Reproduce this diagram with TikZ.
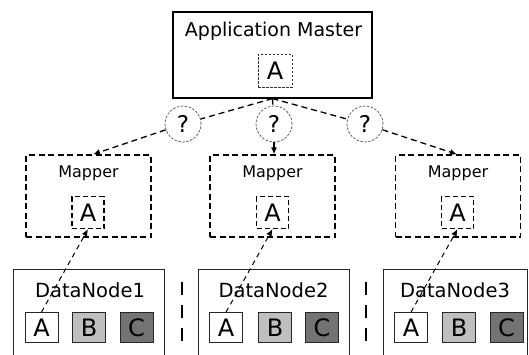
\documentclass[tikz,border=0pt]{standalone}
\usepackage{fontspec}
\setmainfont{DejaVu Sans}
\usetikzlibrary{arrows.meta}

\tikzset{
  box/.style={draw, line width=1.2pt, inner sep=0pt},
  lbl/.style={inner sep=0pt, font=\fontsize{16}{18}\selectfont},
  dnlbl/.style={inner sep=0pt, font=\fontsize{19.5}{21}\selectfont},
  letter/.style={inner sep=0pt, minimum width=33pt, minimum height=30pt,
                 font=\fontsize{24}{26}\selectfont},
  mapbox/.style={draw, line width=1.3pt, dash pattern=on 6pt off 3.5pt,
                 minimum width=125pt, minimum height=82pt},
  maplet/.style={letter, draw, line width=1.3pt, dash pattern=on 5pt off 3pt,
                 minimum width=32pt, minimum height=32pt},
  aminner/.style={letter, draw, line width=0.7pt, draw=black!80,
                  dash pattern=on 2.5pt off 1.5pt,
                  minimum width=34pt, minimum height=33pt},
  query/.style={circle, draw=black!70, line width=0.7pt,
                dash pattern=on 2.5pt off 1.5pt, fill=white,
                minimum size=36pt, inner sep=0pt,
                font=\fontsize{23}{25}\selectfont},
  dnbox/.style={draw=black!85, line width=0.8pt, minimum width=151pt,
                minimum height=110pt, anchor=north},
  blk/.style={letter, draw=black!85, line width=0.8pt},
  flow/.style={line width=1.3pt, dash pattern=on 6pt off 4pt},
  tip/.style={-{Latex[length=7pt,width=6pt]}},
  read/.style={line width=1pt, dash pattern=on 5pt off 4pt, tip},
  sep/.style={line width=1.5pt, dash pattern=on 13pt off 10pt}
}

\begin{document}
\begin{tikzpicture}[x=1pt, y=-1pt]
\clip (0,0) rectangle (529,354);
\fill[white] (0,0) rectangle (529,354);

% application master
\node[box, minimum width=199pt, minimum height=86pt] (am) at (272.5,55) {};
\node[lbl, font=\fontsize{19}{21}\selectfont] (amt) at (273.5,31) {Application Master};
\node[aminner] (amA) at (275,70.5) {A};

% mappers
\node[mapbox] (m1) at (88.5,196) {};
\node[mapbox] (m2) at (272.5,196) {};
\node[mapbox] (m3) at (458,196) {};
\node[lbl] (m1t) at (88.5,173) {Mapper};
\node[lbl] (m2t) at (272.5,173) {Mapper};
\node[lbl] (m3t) at (458,173) {Mapper};
\node[maplet] (mA1) at (88,212.5) {A};
\node[maplet] (mA2) at (272.5,212.5) {A};
\node[maplet] (mA3) at (457.5,212.5) {A};

% data nodes (open at the bottom edge)
\node[dnbox] (d1) at (88.5,269) {};
\node[dnbox] (d2) at (273.5,269) {};
\node[dnbox, minimum width=144pt] (d3) at (455,269) {};
\node[dnlbl] (d1t) at (90,290) {DataNode1};
\node[dnlbl] (d2t) at (273.5,290) {DataNode2};
\node[dnlbl] (d3t) at (455,290) {DataNode3};

\node[blk] (a1) at (41.5,327.5) {A};
\node[blk, fill=black!25] (b1) at (89,327.5) {B};
\node[blk, fill=black!55] (c1) at (136.5,327.5) {C};
\node[blk] (a2) at (226,327.5) {A};
\node[blk, fill=black!25] (b2) at (275,327.5) {B};
\node[blk, fill=black!55] (c2) at (322,327.5) {C};
\node[blk] (a3) at (411,327.5) {A};
\node[blk, fill=black!25] (b3) at (459,327.5) {B};
\node[blk, fill=black!55] (c3) at (506.5,327.5) {C};

% separators between data nodes
\coordinate (s1a) at (182,282);
\coordinate (s1b) at (182,342);
\coordinate (s2a) at (366,282);
\coordinate (s2b) at (366,342);
\draw[sep] (s1a) -- (s1b);
\draw[sep] (s2a) -- (s2b);

% scheduling decisions
\node[query] (q1) at (183,124) {?};
\node[query] (q2) at (274,124) {?};
\node[query] (q3) at (365,124) {?};

\draw[flow] (am.south) -- (q1);
\draw[flow] (am.south) -- (q2);
\draw[flow] (am.south) -- (q3);
\draw[flow, tip] (q1) -- ([xshift=4.5pt]m1.north);
\draw[flow, tip] (q2) -- (m2.north -| q2);
\draw[flow, tip] (q3) -- ([xshift=-1pt]m3.north);

% block reads
\draw[read] (a1.north) -- (mA1.south);
\draw[read] (a2.north) -- (mA2.south);
\draw[read] (a3.north) -- (mA3.south);
\end{tikzpicture}
\end{document}
